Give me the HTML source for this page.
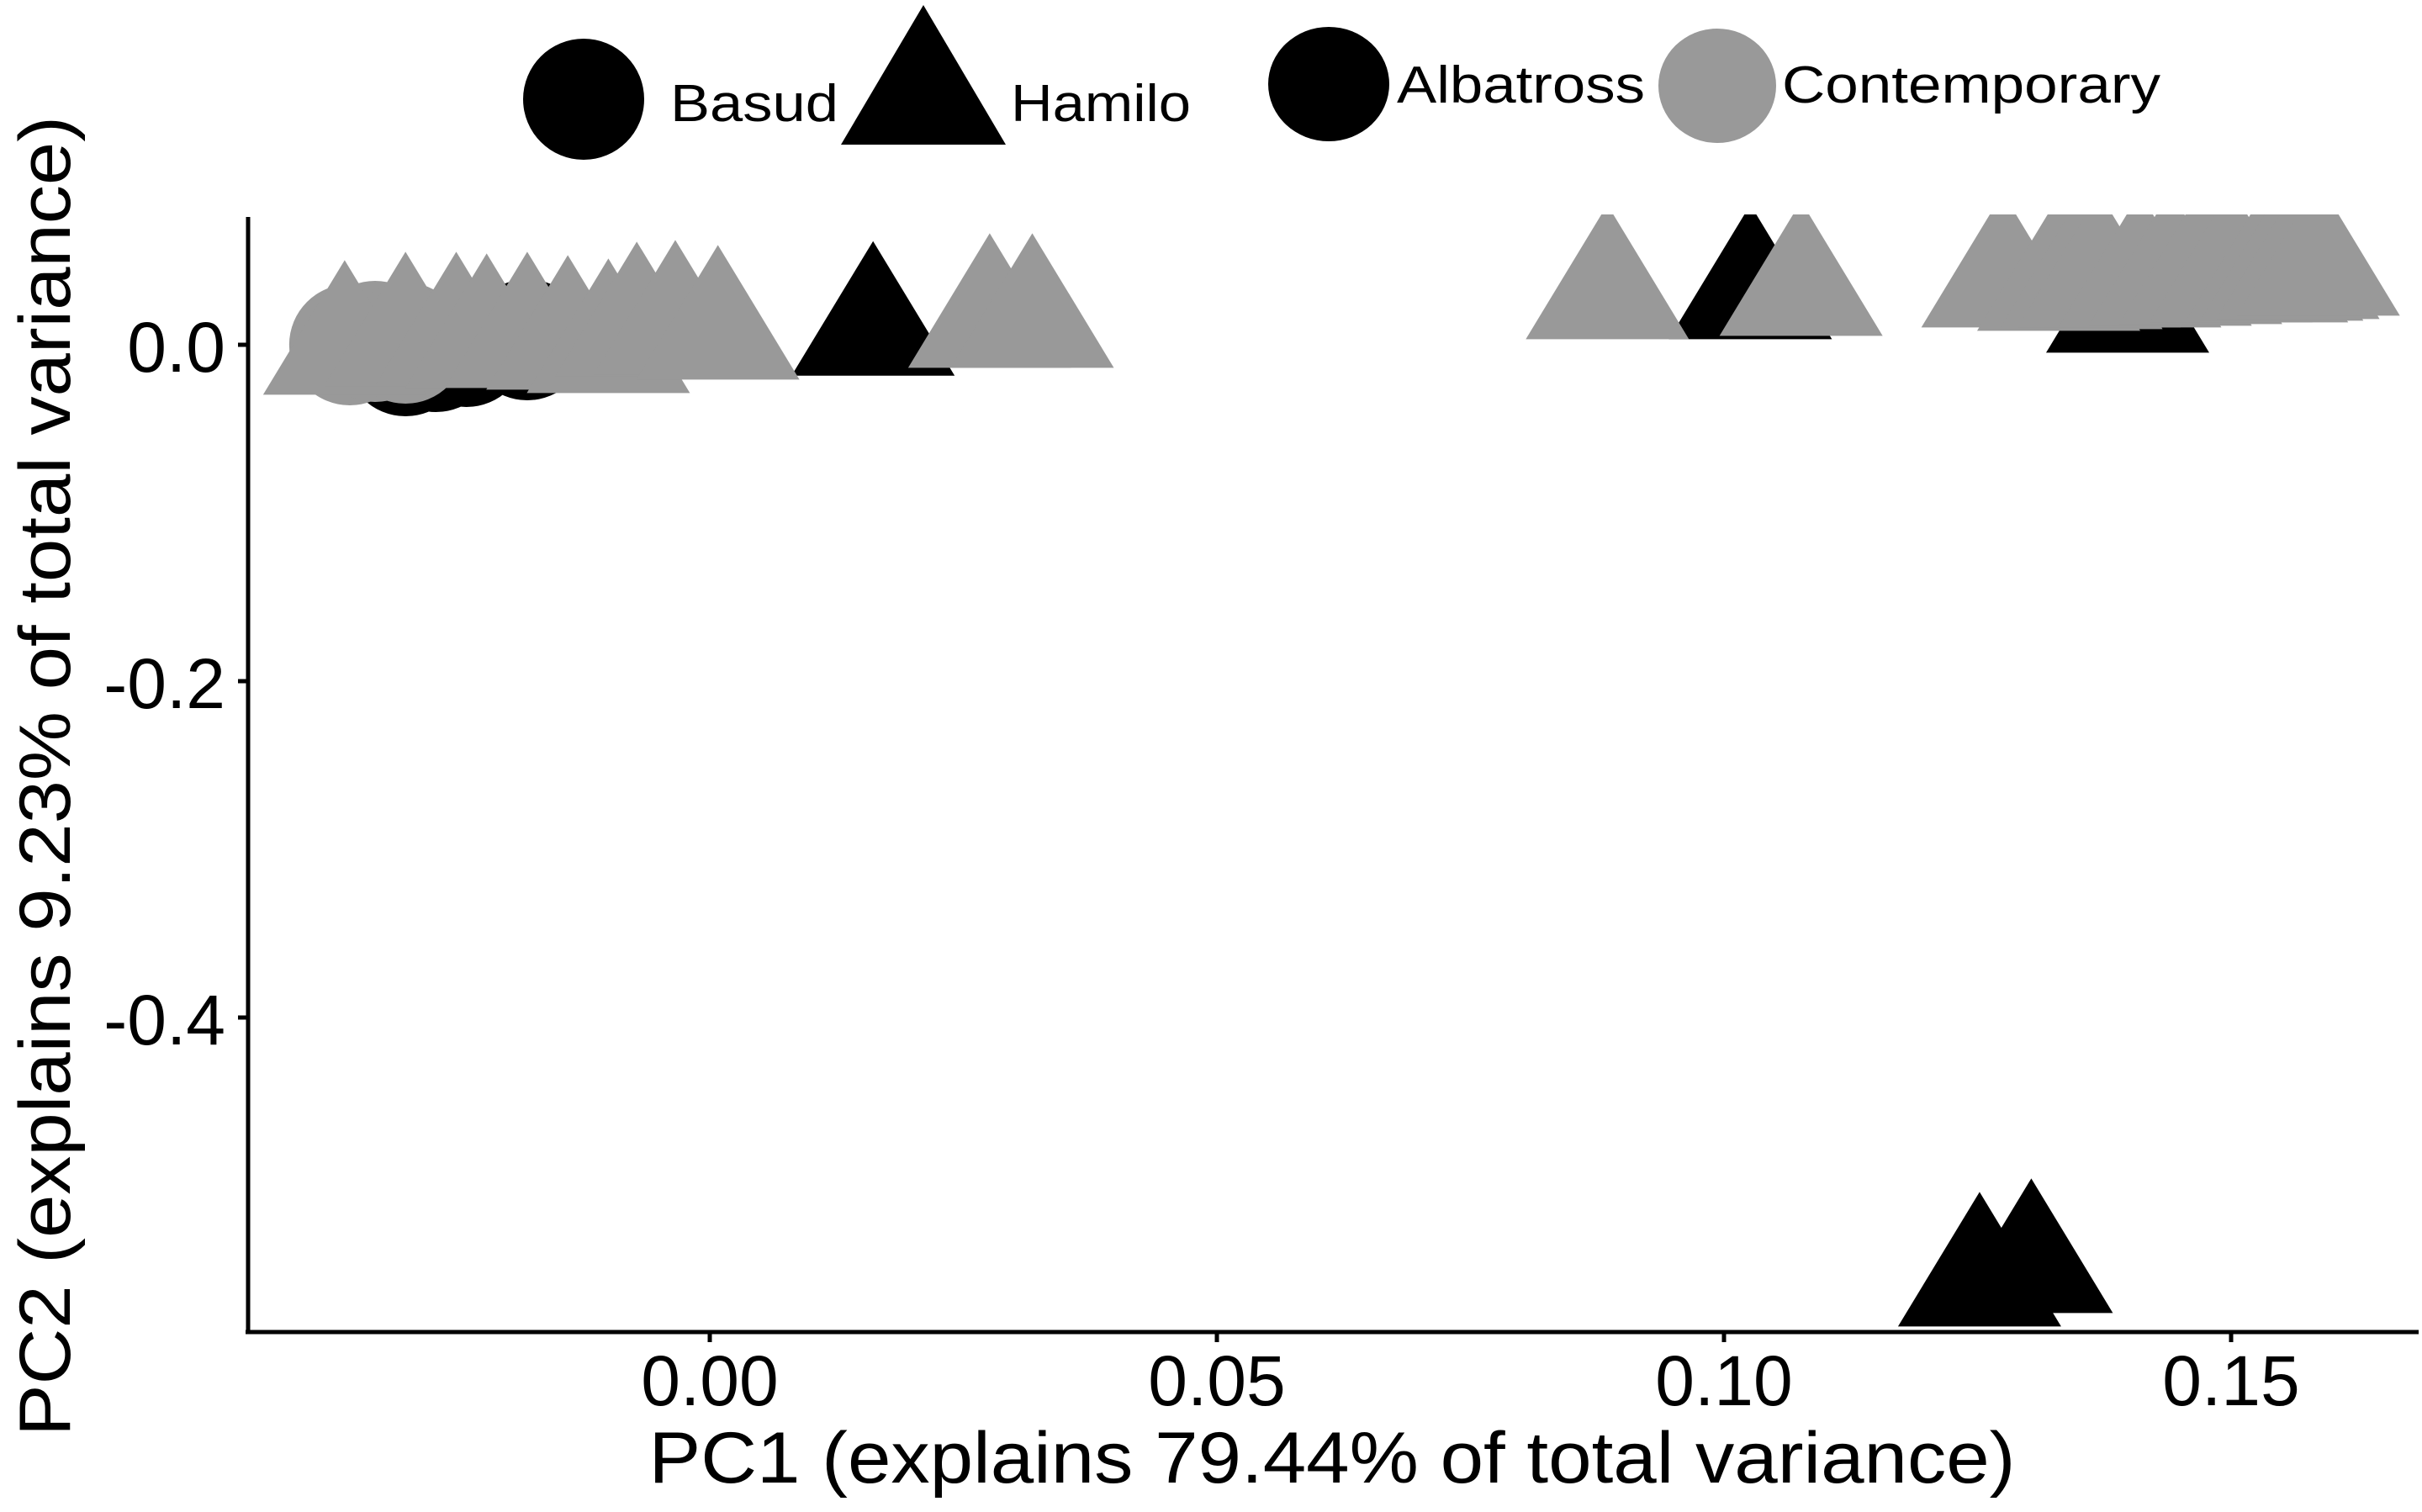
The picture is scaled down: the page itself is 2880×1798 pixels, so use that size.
<!DOCTYPE html>
<html><head><meta charset="utf-8"><style>
html,body{margin:0;padding:0;background:#fff;}
svg{display:block;font-family:"Liberation Sans",sans-serif;}
</style></head><body>
<svg id="chart" width="2880" height="1798" viewBox="0 0 2880 1798" xmlns="http://www.w3.org/2000/svg">
<defs><clipPath id="panel"><rect x="297" y="255" width="2583" height="1329"/></clipPath></defs>
<g id="legend">
  <circle cx="694" cy="118" r="72" fill="#000"/>
  <text x="797" y="144" font-size="62" textLength="200" lengthAdjust="spacingAndGlyphs">Basud</text>
  <polygon points="1098,6 1196,172 1000,172" fill="#000"/>
  <text x="1202" y="144" font-size="62" textLength="214" lengthAdjust="spacingAndGlyphs">Hamilo</text>
  <ellipse cx="1580" cy="100" rx="72" ry="68" fill="#000"/>
  <text x="1661" y="122" font-size="62" textLength="295" lengthAdjust="spacingAndGlyphs">Albatross</text>
  <ellipse cx="2042" cy="102" rx="70" ry="68" fill="#999"/>
  <text x="2119" y="122" font-size="62" textLength="450" lengthAdjust="spacingAndGlyphs">Contemporary</text>
</g>
<g id="marks" clip-path="url(#panel)"></g>
<g id="axes">
  <line x1="295" y1="258" x2="295" y2="1586" stroke="#000" stroke-width="5"/>
  <line x1="292" y1="1584" x2="2876" y2="1584" stroke="#000" stroke-width="5"/>
</g>
<g id="ticks"></g>
<text x="1584" y="1763" font-size="86" text-anchor="middle" textLength="1625" lengthAdjust="spacingAndGlyphs">PC1 (explains 79.44% of total variance)</text>
<text transform="translate(83,923) rotate(-90)" font-size="86" text-anchor="middle" textLength="1570" lengthAdjust="spacingAndGlyphs">PC2 (explains 9.23%  of total variance)</text>
</svg>
<script>
const xTicks = [0.00, 0.05, 0.10, 0.15];
const xTickLabels = ["0.00", "0.05", "0.10", "0.15"];
const yTicks = [0.0, -0.2, -0.4];
const yTickLabels = ["0.0", "-0.2", "-0.4"];
const blackCircleX = [-0.030, -0.024, -0.018, -0.027];
const blackCircleY = [-0.0065, -0.001, 0.003, -0.004];
const blackTriX = [0.0161, 0.1026, 0.1398, 0.1252, 0.1303];
const blackTriY = [0.0083, 0.030, 0.022, -0.557, -0.549];
const grayCircleX = [-0.0355, -0.033, -0.030];
const grayCircleY = [0.000, 0.002, 0.001];
const grayTriX = [-0.036, -0.030, -0.025, -0.022, -0.018, -0.014, -0.010, -0.0072, -0.0034, 0.0008, 0.0276, 0.0318, 0.0885, 0.1076, 0.1275, 0.133, 0.1352, 0.137, 0.141, 0.144, 0.147, 0.150, 0.1535, 0.155, 0.1566, 0.1586];
const grayTriY = [-0.003, 0.002, 0.002, 0.001, 0.002, 0.000, -0.002, 0.008, 0.009, 0.006, 0.013, 0.013, 0.030, 0.032, 0.037, 0.035, 0.036, 0.037, 0.037, 0.038, 0.039, 0.040, 0.040, 0.041, 0.042, 0.044];

const NS = "http://www.w3.org/2000/svg";
function sx(v){ return 844 + v * 12060; }
function sy(v){ return 410 - v * 2000; }
const marks = document.getElementById('marks');
const R = 72, S = 194, H = 160;
function circle(x, y, fill, name){
  const c = document.createElementNS(NS, 'circle');
  c.setAttribute('cx', sx(x)); c.setAttribute('cy', sy(y)); c.setAttribute('r', R);
  c.setAttribute('fill', fill);
  
  
  marks.appendChild(c);
}
function tri(x, y, fill, name){
  const cx = sx(x), cy = sy(y);
  const p = document.createElementNS(NS, 'polygon');
  p.setAttribute('points', `${cx},${cy - H*2/3} ${cx + S/2},${cy + H/3} ${cx - S/2},${cy + H/3}`);
  p.setAttribute('fill', fill);
  
  
  marks.appendChild(p);
}
blackCircleX.forEach((x, i) => circle(x, blackCircleY[i], '#000', 'point-black-circle'));
blackTriX.forEach((x, i) => tri(x, blackTriY[i], '#000', 'point-black-triangle'));
grayCircleX.forEach((x, i) => circle(x, grayCircleY[i], '#999', 'point-gray-circle'));
grayTriX.forEach((x, i) => tri(x, grayTriY[i], '#999', 'point-gray-triangle'));

const ticks = document.getElementById('ticks');
xTicks.forEach((v, i) => {
  const l = document.createElementNS(NS, 'line');
  l.setAttribute('x1', sx(v)); l.setAttribute('x2', sx(v));
  l.setAttribute('y1', 1584); l.setAttribute('y2', 1596);
  l.setAttribute('stroke', '#000'); l.setAttribute('stroke-width', 5);
  
  
  ticks.appendChild(l);
  const t = document.createElementNS(NS, 'text');
  t.setAttribute('x', sx(v)); t.setAttribute('y', 1671);
  t.setAttribute('font-size', 84); t.setAttribute('text-anchor', 'middle');
  t.textContent = xTickLabels[i];
  
  
  ticks.appendChild(t);
});
yTicks.forEach((v, i) => {
  const l = document.createElementNS(NS, 'line');
  l.setAttribute('x1', 283); l.setAttribute('x2', 295);
  l.setAttribute('y1', sy(v)); l.setAttribute('y2', sy(v));
  l.setAttribute('stroke', '#000'); l.setAttribute('stroke-width', 5);
  
  
  ticks.appendChild(l);
  const t = document.createElementNS(NS, 'text');
  t.setAttribute('x', 268); t.setAttribute('y', sy(v) + 32);
  t.setAttribute('font-size', 84); t.setAttribute('text-anchor', 'end');
  t.textContent = yTickLabels[i];
  
  
  ticks.appendChild(t);
});
</script>
</body></html>
